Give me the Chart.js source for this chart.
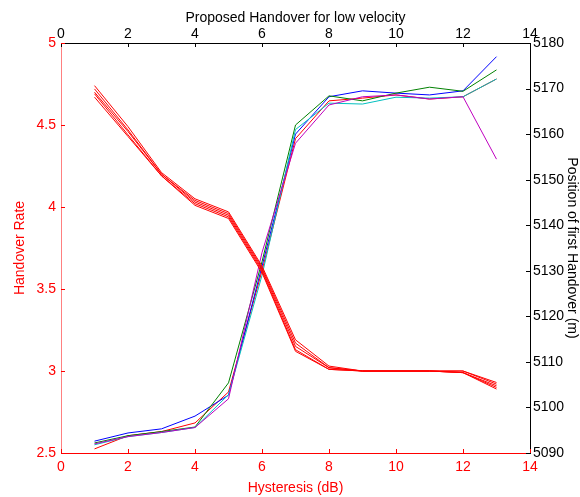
<!DOCTYPE html>
<html lang="en">
<head>
<meta charset="UTF-8">
<title>Proposed Handover for low velocity</title>
<script src="https://cdn.jsdelivr.net/npm/chart.js"></script>
<style>
    body { margin: 0; padding: 0; background: #fff; }
    #wrap { width: 580px; height: 497px; }
</style>
</head>
<body>
<div id="wrap"><canvas id="chart"></canvas></div>
<script>
    // hysteresis values (dB)
    const hyst = [1, 2, 3, 4, 5, 6, 7, 8, 9, 10, 11, 12, 13];

    // handover rate (left axis), five runs
    const rate1 = [4.74, 4.49, 4.21, 4.05, 3.97, 3.64, 3.19, 3.03, 3.0, 3.0, 3.0, 3.0, 2.93];
    const rate2 = [4.72, 4.47, 4.20, 4.04, 3.96, 3.63, 3.17, 3.02, 3.0, 3.0, 3.0, 3.0, 2.92];
    const rate3 = [4.70, 4.46, 4.20, 4.03, 3.95, 3.62, 3.15, 3.02, 3.0, 3.0, 3.0, 2.99, 2.91];
    const rate4 = [4.69, 4.44, 4.19, 4.02, 3.94, 3.61, 3.13, 3.01, 3.0, 3.0, 3.0, 2.99, 2.90];
    const rate5 = [4.67, 4.43, 4.19, 4.01, 3.93, 3.60, 3.12, 3.01, 3.0, 3.0, 3.0, 2.99, 2.89];

    // position of first handover (right axis, m)
    const posRed     = [5090.9, 5093.8, 5094.7, 5096.6, 5103.4, 5130, 5159, 5167.3, 5167.9, 5168.6, 5167.7, 5168.2, 5172.1];
    const posBlue    = [5092.6, 5094.4, 5095.3, 5098.1, 5102.7, 5131, 5160, 5168.2, 5169.5, 5169.0, 5168.6, 5169.5, 5177.0];
    const posGreen   = [5092.2, 5093.8, 5094.7, 5095.7, 5105.4, 5132, 5162, 5168.4, 5167.3, 5169.0, 5170.3, 5169.4, 5174.1];
    const posCyan    = [5091.8, 5093.6, 5094.5, 5095.6, 5102.8, 5129, 5161, 5166.8, 5166.6, 5168.1, 5167.9, 5168.2, 5172.1];
    const posMagenta = [5092.0, 5093.6, 5094.5, 5095.6, 5101.9, 5134, 5158, 5166.4, 5168.2, 5168.6, 5167.7, 5168.2, 5154.5];

    const xTicks = [0, 2, 4, 6, 8, 10, 12, 14];

    const pts = ys => ys.map((v, i) => ({x: hyst[i], y: v}));

    const line = (vals, color, axis) => ({
        data: pts(vals),
        borderColor: color,
        borderWidth: 1,
        pointRadius: 0,
        fill: false,
        tension: 0,
        xAxisID: 'x',
        yAxisID: axis
    });

    // first dataset ends up on top
    const datasets = [
        line(rate1, '#ff0000', 'y'),
        line(rate2, '#ff0000', 'y'),
        line(rate3, '#ff0000', 'y'),
        line(rate4, '#ff0000', 'y'),
        line(rate5, '#ff0000', 'y'),
        line(posMagenta, '#bf00bf', 'y2'),
        line(posCyan, '#00bfbf', 'y2'),
        line(posGreen, '#008000', 'y2'),
        line(posBlue, '#0000ff', 'y2'),
        line(posRed, '#ff0000', 'y2')
    ];

    const font = {family: 'Liberation Sans, Arial, sans-serif', size: 14};

    // MATLAB style: small ticks pointing into the plot
    const innerTicks = {
        id: 'innerTicks',
        afterDraw(chart) {
            const c = chart.ctx;
            const a = chart.chartArea;
            c.save();
            c.lineWidth = 1;
            const sx = chart.scales.x, sx2 = chart.scales.x2;
            const sy = chart.scales.y, sy2 = chart.scales.y2;
            sx.ticks.forEach(t => {
                const p = Math.round(sx.getPixelForValue(t.value)) + 0.5;
                c.strokeStyle = '#ff0000';
                c.beginPath(); c.moveTo(p, a.bottom); c.lineTo(p, a.bottom - 4); c.stroke();
            });
            sx2.ticks.forEach(t => {
                const p = Math.round(sx2.getPixelForValue(t.value)) + 0.5;
                c.strokeStyle = '#000';
                c.beginPath(); c.moveTo(p, a.top); c.lineTo(p, a.top + 4); c.stroke();
            });
            sy.ticks.forEach(t => {
                const p = Math.round(sy.getPixelForValue(t.value)) + 0.5;
                c.strokeStyle = '#ff0000';
                c.beginPath(); c.moveTo(a.left, p); c.lineTo(a.left + 4, p); c.stroke();
            });
            sy2.ticks.forEach(t => {
                const p = Math.round(sy2.getPixelForValue(t.value)) + 0.5;
                c.strokeStyle = '#000';
                c.beginPath(); c.moveTo(a.right, p); c.lineTo(a.right - 4, p); c.stroke();
            });
            c.restore();
        }
    };

    new Chart(document.getElementById('chart'), {
        type: 'line',
        data: {datasets: datasets},
        plugins: [innerTicks],
        options: {
            responsive: true,
            maintainAspectRatio: false,
            animation: false,
            layout: {padding: 0},
            plugins: {
                legend: {display: false},
                tooltip: {enabled: false}
            },
            scales: {
                x: {
                    type: 'linear',
                    position: 'bottom',
                    min: 0, max: 14,
                    afterBuildTicks: s => { s.ticks = xTicks.map(v => ({value: v})); },
                    afterFit: s => { s.height = 44; },
                    grid: {display: false, drawTicks: false},
                    border: {color: '#ff0000', width: 1},
                    ticks: {color: '#ff0000', font: font, padding: 6, maxRotation: 0},
                    title: {display: true, text: 'Hysteresis (dB)', color: '#ff0000', font: font, padding: 0}
                },
                x2: {
                    type: 'linear',
                    position: 'top',
                    min: 0, max: 14,
                    afterBuildTicks: s => { s.ticks = xTicks.map(v => ({value: v})); },
                    afterFit: s => { s.height = 43; },
                    grid: {display: false, drawTicks: false},
                    border: {color: '#000', width: 1},
                    ticks: {color: '#000', font: font, padding: 0, maxRotation: 0},
                    title: {display: true, text: 'Proposed Handover for low velocity', color: '#000', font: font, padding: {top: 10, bottom: 0}}
                },
                y: {
                    type: 'linear',
                    position: 'left',
                    min: 2.5, max: 5,
                    ticks: {stepSize: 0.5, color: '#ff0000', font: font, padding: 5, callback: v => String(v)},
                    afterFit: s => { s.width = 61; },
                    grid: {display: false, drawTicks: false},
                    border: {color: '#ff8080', width: 1},
                    title: {display: true, text: 'Handover Rate', color: '#ff0000', font: font, padding: {top: 12, bottom: 0}}
                },
                y2: {
                    type: 'linear',
                    position: 'right',
                    min: 5090, max: 5180,
                    ticks: {stepSize: 10, color: '#000', font: font, padding: 3, callback: v => String(v)},
                    afterFit: s => { s.width = 50; },
                    grid: {display: false, drawTicks: false},
                    border: {color: '#000', width: 1},
                    title: {display: true, text: 'Position of first Handover (m)', color: '#000', font: font, padding: {top: 0, bottom: 0}}
                }
            }
        }
    });
</script>
</body>
</html>
